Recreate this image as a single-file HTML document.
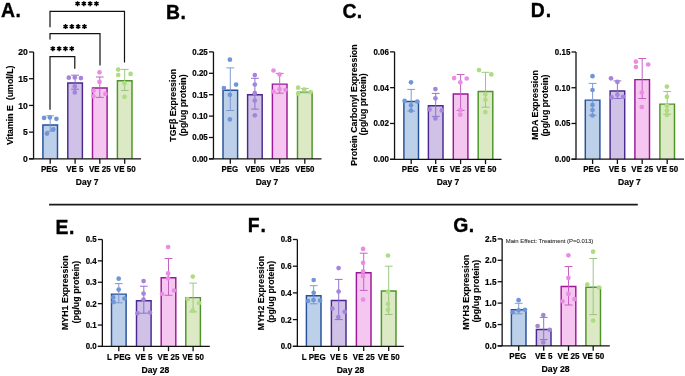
<!DOCTYPE html>
<html><head><meta charset="utf-8"><style>
html,body{margin:0;padding:0;background:#fff;}
svg{display:block;font-family:"Liberation Sans", sans-serif;will-change:transform;}
</style></head><body>
<svg width="685" height="376" viewBox="0 0 685 376">
<rect width="685" height="376" fill="#fff"/>
<rect x="42.9" y="125.0" width="14.6" height="33.85" fill="#bdd0ea"/>
<path d="M42.900000000000006,158.85V125.0H57.5V158.85" fill="none" stroke="#25509a" stroke-width="1.45"/>
<path d="M50.2,115.8V131.3M46.300000000000004,115.8H54.1M46.300000000000004,131.3H54.1" stroke="#7896cc" stroke-width="0.95" fill="none"/>
<circle cx="44.1" cy="117.9" r="2.35" fill="#6f96d8"/>
<circle cx="49.9" cy="117.5" r="2.35" fill="#6f96d8"/>
<circle cx="56.4" cy="118.8" r="2.35" fill="#6f96d8"/>
<circle cx="53.3" cy="129.4" r="2.35" fill="#6f96d8"/>
<circle cx="47.0" cy="133.6" r="2.35" fill="#6f96d8"/>
<rect x="67.8" y="83.0" width="14.6" height="75.85" fill="#d0c2e7"/>
<path d="M67.8,158.85V83.0H82.39999999999999V158.85" fill="none" stroke="#4a2890" stroke-width="1.45"/>
<path d="M75.1,75.2V89.2M71.19999999999999,75.2H79.0M71.19999999999999,89.2H79.0" stroke="#8b6acb" stroke-width="0.95" fill="none"/>
<circle cx="68.8" cy="77.7" r="2.35" fill="#a585da"/>
<circle cx="74.8" cy="77.4" r="2.35" fill="#a585da"/>
<circle cx="80.9" cy="78.1" r="2.35" fill="#a585da"/>
<circle cx="74.8" cy="86.3" r="2.35" fill="#a585da"/>
<circle cx="74.8" cy="92.4" r="2.35" fill="#a585da"/>
<rect x="92.5" y="87.9" width="14.6" height="70.95" fill="#f4c6f0"/>
<path d="M92.5,158.85V87.9H107.1V158.85" fill="none" stroke="#9c1896" stroke-width="1.45"/>
<path d="M99.8,77.0V97.4M95.89999999999999,77.0H103.7M95.89999999999999,97.4H103.7" stroke="#c45ac2" stroke-width="0.95" fill="none"/>
<circle cx="99.5" cy="72.3" r="2.35" fill="#e98de4"/>
<circle cx="99.5" cy="81.9" r="2.35" fill="#e98de4"/>
<circle cx="93.4" cy="90.7" r="2.35" fill="#e98de4"/>
<circle cx="105.4" cy="93.9" r="2.35" fill="#e98de4"/>
<circle cx="93.4" cy="96.3" r="2.35" fill="#e98de4"/>
<rect x="117.4" y="80.8" width="14.6" height="78.05" fill="#dbeac4"/>
<path d="M117.4,158.85V80.8H132.0V158.85" fill="none" stroke="#4e9426" stroke-width="1.45"/>
<path d="M124.7,69.4V90.5M120.8,69.4H128.6M120.8,90.5H128.6" stroke="#97c47c" stroke-width="0.95" fill="none"/>
<circle cx="118.2" cy="69.6" r="2.35" fill="#afdc82"/>
<circle cx="118.2" cy="75.0" r="2.35" fill="#afdc82"/>
<circle cx="130.6" cy="73.9" r="2.35" fill="#afdc82"/>
<circle cx="124.5" cy="83.2" r="2.35" fill="#afdc82"/>
<circle cx="124.5" cy="96.8" r="2.35" fill="#afdc82"/>
<line x1="33.56" y1="52.0" x2="33.56" y2="158.85" stroke="#111" stroke-width="1.3"/>
<line x1="29.06" y1="52.0" x2="33.56" y2="52.0" stroke="#111" stroke-width="1.3"/>
<text transform="translate(27.86,55.17) scale(1,1.07)" font-size="8.6" text-anchor="end" font-weight="bold" fill="#000" stroke="#000" stroke-width="0.18" >20</text>
<line x1="29.06" y1="78.71" x2="33.56" y2="78.71" stroke="#111" stroke-width="1.3"/>
<text transform="translate(27.86,81.88) scale(1,1.07)" font-size="8.6" text-anchor="end" font-weight="bold" fill="#000" stroke="#000" stroke-width="0.18" >15</text>
<line x1="29.06" y1="105.43" x2="33.56" y2="105.43" stroke="#111" stroke-width="1.3"/>
<text transform="translate(27.86,108.6) scale(1,1.07)" font-size="8.6" text-anchor="end" font-weight="bold" fill="#000" stroke="#000" stroke-width="0.18" >10</text>
<line x1="29.06" y1="132.14" x2="33.56" y2="132.14" stroke="#111" stroke-width="1.3"/>
<text transform="translate(27.86,135.31) scale(1,1.07)" font-size="8.6" text-anchor="end" font-weight="bold" fill="#000" stroke="#000" stroke-width="0.18" >5</text>
<line x1="29.06" y1="158.85" x2="33.56" y2="158.85" stroke="#111" stroke-width="1.3"/>
<text transform="translate(27.86,162.02) scale(1,1.07)" font-size="8.6" text-anchor="end" font-weight="bold" fill="#000" stroke="#000" stroke-width="0.18" >0</text>
<line x1="29.06" y1="158.85" x2="141" y2="158.85" stroke="#111" stroke-width="1.3"/>
<line x1="50.2" y1="158.85" x2="50.2" y2="163.65" stroke="#111" stroke-width="1.3"/>
<text transform="translate(49.4,172.0) scale(1,1.07)" font-size="8.0" text-anchor="middle" font-weight="bold" fill="#000" stroke="#000" stroke-width="0.18" >PEG</text>
<line x1="75.1" y1="158.85" x2="75.1" y2="163.65" stroke="#111" stroke-width="1.3"/>
<text transform="translate(74.9,172.0) scale(1,1.07)" font-size="8.0" text-anchor="middle" font-weight="bold" fill="#000" stroke="#000" stroke-width="0.18" >VE 5</text>
<line x1="99.8" y1="158.85" x2="99.8" y2="163.65" stroke="#111" stroke-width="1.3"/>
<text transform="translate(99.8,172.0) scale(1,1.07)" font-size="8.0" text-anchor="middle" font-weight="bold" fill="#000" stroke="#000" stroke-width="0.18" >VE 25</text>
<line x1="124.7" y1="158.85" x2="124.7" y2="163.65" stroke="#111" stroke-width="1.3"/>
<text transform="translate(124.7,172.0) scale(1,1.07)" font-size="8.0" text-anchor="middle" font-weight="bold" fill="#000" stroke="#000" stroke-width="0.18" >VE 50</text>
<text transform="translate(87.2,184.7) scale(1,1.07)" font-size="8.5" text-anchor="middle" font-weight="bold" fill="#000" stroke="#000" stroke-width="0.18" >Day 7</text>
<text transform="translate(1.0,16.8) scale(1,1.04)" font-size="19.4" font-weight="bold" fill="#000" stroke="#000" stroke-width="0.35">A</text>
<text transform="translate(15.55,16.8) scale(1,1.04)" font-size="19.4" font-weight="bold" fill="#000" stroke="#000" stroke-width="0.35">.</text>
<text transform="translate(13.2,105.25) rotate(-90) scale(1,1.07)" font-size="8.8" text-anchor="middle" font-weight="bold" fill="#000" stroke="#000" stroke-width="0.12">Vitamin E&#160;&#160;(umol/L)</text>
<rect x="223.0" y="90.2" width="14.6" height="68.7" fill="#bdd0ea"/>
<path d="M223.0,158.9V90.2H237.60000000000002V158.9" fill="none" stroke="#25509a" stroke-width="1.45"/>
<path d="M230.3,67.9V110.5M226.4,67.9H234.20000000000002M226.4,110.5H234.20000000000002" stroke="#7896cc" stroke-width="0.95" fill="none"/>
<circle cx="229.9" cy="59.7" r="2.35" fill="#6f96d8"/>
<circle cx="223.9" cy="88.1" r="2.35" fill="#6f96d8"/>
<circle cx="236.1" cy="84.6" r="2.35" fill="#6f96d8"/>
<circle cx="229.9" cy="94.8" r="2.35" fill="#6f96d8"/>
<circle cx="229.9" cy="119.4" r="2.35" fill="#6f96d8"/>
<rect x="247.6" y="94.8" width="14.6" height="64.1" fill="#d0c2e7"/>
<path d="M247.6,158.9V94.8H262.2V158.9" fill="none" stroke="#4a2890" stroke-width="1.45"/>
<path d="M254.9,78.3V109.1M251.0,78.3H258.8M251.0,109.1H258.8" stroke="#8b6acb" stroke-width="0.95" fill="none"/>
<circle cx="254.8" cy="75.1" r="2.35" fill="#a585da"/>
<circle cx="254.8" cy="84.5" r="2.35" fill="#a585da"/>
<circle cx="254.8" cy="93.2" r="2.35" fill="#a585da"/>
<circle cx="254.8" cy="100.6" r="2.35" fill="#a585da"/>
<circle cx="254.8" cy="115.3" r="2.35" fill="#a585da"/>
<rect x="272.4" y="84.1" width="14.6" height="74.8" fill="#f4c6f0"/>
<path d="M272.4,158.9V84.1H287.0V158.9" fill="none" stroke="#9c1896" stroke-width="1.45"/>
<path d="M279.7,73.4V93.2M275.8,73.4H283.59999999999997M275.8,93.2H283.59999999999997" stroke="#c45ac2" stroke-width="0.95" fill="none"/>
<circle cx="273.5" cy="70.5" r="2.35" fill="#e98de4"/>
<circle cx="279.6" cy="74.5" r="2.35" fill="#e98de4"/>
<circle cx="273.5" cy="91.7" r="2.35" fill="#e98de4"/>
<circle cx="279.6" cy="89.3" r="2.35" fill="#e98de4"/>
<circle cx="285.6" cy="89.8" r="2.35" fill="#e98de4"/>
<rect x="297.5" y="92.1" width="14.6" height="66.8" fill="#dbeac4"/>
<path d="M297.5,158.9V92.1H312.1V158.9" fill="none" stroke="#4e9426" stroke-width="1.45"/>
<path d="M304.8,88.4V92.8M300.90000000000003,88.4H308.7M300.90000000000003,92.8H308.7" stroke="#97c47c" stroke-width="0.95" fill="none"/>
<circle cx="298.1" cy="87.7" r="2.35" fill="#afdc82"/>
<circle cx="304.2" cy="89.6" r="2.35" fill="#afdc82"/>
<circle cx="310.6" cy="92.0" r="2.35" fill="#afdc82"/>
<circle cx="298.1" cy="93.6" r="2.35" fill="#afdc82"/>
<line x1="213.46" y1="51.9" x2="213.46" y2="158.9" stroke="#111" stroke-width="1.3"/>
<line x1="208.96" y1="51.9" x2="213.46" y2="51.9" stroke="#111" stroke-width="1.3"/>
<text transform="translate(207.76,54.83) scale(1,1.07)" font-size="7.95" text-anchor="end" font-weight="bold" fill="#000" stroke="#000" stroke-width="0.18" >0.25</text>
<line x1="208.96" y1="73.3" x2="213.46" y2="73.3" stroke="#111" stroke-width="1.3"/>
<text transform="translate(207.76,76.23) scale(1,1.07)" font-size="7.95" text-anchor="end" font-weight="bold" fill="#000" stroke="#000" stroke-width="0.18" >0.20</text>
<line x1="208.96" y1="94.7" x2="213.46" y2="94.7" stroke="#111" stroke-width="1.3"/>
<text transform="translate(207.76,97.63) scale(1,1.07)" font-size="7.95" text-anchor="end" font-weight="bold" fill="#000" stroke="#000" stroke-width="0.18" >0.15</text>
<line x1="208.96" y1="116.1" x2="213.46" y2="116.1" stroke="#111" stroke-width="1.3"/>
<text transform="translate(207.76,119.03) scale(1,1.07)" font-size="7.95" text-anchor="end" font-weight="bold" fill="#000" stroke="#000" stroke-width="0.18" >0.10</text>
<line x1="208.96" y1="137.5" x2="213.46" y2="137.5" stroke="#111" stroke-width="1.3"/>
<text transform="translate(207.76,140.43) scale(1,1.07)" font-size="7.95" text-anchor="end" font-weight="bold" fill="#000" stroke="#000" stroke-width="0.18" >0.05</text>
<line x1="208.96" y1="158.9" x2="213.46" y2="158.9" stroke="#111" stroke-width="1.3"/>
<text transform="translate(207.76,161.83) scale(1,1.07)" font-size="7.95" text-anchor="end" font-weight="bold" fill="#000" stroke="#000" stroke-width="0.18" >0.00</text>
<line x1="208.96" y1="158.9" x2="321.5" y2="158.9" stroke="#111" stroke-width="1.3"/>
<line x1="230.3" y1="158.9" x2="230.3" y2="163.7" stroke="#111" stroke-width="1.3"/>
<text transform="translate(229.9,172.0) scale(1,1.07)" font-size="7.9" text-anchor="middle" font-weight="bold" fill="#000" stroke="#000" stroke-width="0.18" >PEG</text>
<line x1="254.9" y1="158.9" x2="254.9" y2="163.7" stroke="#111" stroke-width="1.3"/>
<text transform="translate(254.9,172.0) scale(1,1.07)" font-size="7.9" text-anchor="middle" font-weight="bold" fill="#000" stroke="#000" stroke-width="0.18" >VE05</text>
<line x1="279.7" y1="158.9" x2="279.7" y2="163.7" stroke="#111" stroke-width="1.3"/>
<text transform="translate(279.7,172.0) scale(1,1.07)" font-size="7.9" text-anchor="middle" font-weight="bold" fill="#000" stroke="#000" stroke-width="0.18" >VE25</text>
<line x1="304.8" y1="158.9" x2="304.8" y2="163.7" stroke="#111" stroke-width="1.3"/>
<text transform="translate(304.8,172.0) scale(1,1.07)" font-size="7.9" text-anchor="middle" font-weight="bold" fill="#000" stroke="#000" stroke-width="0.18" >VE50</text>
<text transform="translate(267.0,184.8) scale(1,1.07)" font-size="8.5" text-anchor="middle" font-weight="bold" fill="#000" stroke="#000" stroke-width="0.18" >Day 7</text>
<text transform="translate(165.95,19.2) scale(1,1.04)" font-size="19.4" font-weight="bold" fill="#000" stroke="#000" stroke-width="0.35">B</text>
<text transform="translate(180.45,19.2) scale(1,1.04)" font-size="19.4" font-weight="bold" fill="#000" stroke="#000" stroke-width="0.35">.</text>
<text transform="translate(175.7,105.25) rotate(-90) scale(1,1.07)" font-size="8.8" text-anchor="middle" font-weight="bold" fill="#000" stroke="#000" stroke-width="0.12">TGF&#946; Expression</text>
<text transform="translate(185.8,105.35) rotate(-90) scale(1,1.07)" font-size="8.8" text-anchor="middle" font-weight="bold" fill="#000" stroke="#000" stroke-width="0.12">(pg/ug protein)</text>
<rect x="403.9" y="101.5" width="14.6" height="57.79" fill="#bdd0ea"/>
<path d="M403.9,159.29V101.5H418.5V159.29" fill="none" stroke="#25509a" stroke-width="1.45"/>
<path d="M411.2,89.4V111.1M407.3,89.4H415.09999999999997M407.3,111.1H415.09999999999997" stroke="#7896cc" stroke-width="0.95" fill="none"/>
<circle cx="411" cy="82.3" r="2.35" fill="#6f96d8"/>
<circle cx="404.6" cy="100.9" r="2.35" fill="#6f96d8"/>
<circle cx="417.3" cy="101.5" r="2.35" fill="#6f96d8"/>
<circle cx="411" cy="105.3" r="2.35" fill="#6f96d8"/>
<circle cx="411" cy="110.6" r="2.35" fill="#6f96d8"/>
<rect x="428.4" y="105.8" width="14.6" height="53.49" fill="#d0c2e7"/>
<path d="M428.4,159.29V105.8H443.0V159.29" fill="none" stroke="#4a2890" stroke-width="1.45"/>
<path d="M435.7,93.4V116.4M431.8,93.4H439.59999999999997M431.8,116.4H439.59999999999997" stroke="#8b6acb" stroke-width="0.95" fill="none"/>
<circle cx="435.4" cy="89.1" r="2.35" fill="#a585da"/>
<circle cx="435.4" cy="98.3" r="2.35" fill="#a585da"/>
<circle cx="429.5" cy="109.4" r="2.35" fill="#a585da"/>
<circle cx="441.8" cy="110.4" r="2.35" fill="#a585da"/>
<circle cx="435.4" cy="118.5" r="2.35" fill="#a585da"/>
<rect x="453.3" y="93.9" width="14.6" height="65.39" fill="#f4c6f0"/>
<path d="M453.3,159.29V93.9H467.90000000000003V159.29" fill="none" stroke="#9c1896" stroke-width="1.45"/>
<path d="M460.6,74.5V110.4M456.70000000000005,74.5H464.5M456.70000000000005,110.4H464.5" stroke="#c45ac2" stroke-width="0.95" fill="none"/>
<circle cx="454.1" cy="78.1" r="2.35" fill="#e98de4"/>
<circle cx="460.3" cy="82.3" r="2.35" fill="#e98de4"/>
<circle cx="466.7" cy="78.5" r="2.35" fill="#e98de4"/>
<circle cx="460.3" cy="110.0" r="2.35" fill="#e98de4"/>
<circle cx="460.3" cy="114.7" r="2.35" fill="#e98de4"/>
<rect x="478.2" y="91.4" width="14.6" height="67.89" fill="#dbeac4"/>
<path d="M478.2,159.29V91.4H492.8V159.29" fill="none" stroke="#4e9426" stroke-width="1.45"/>
<path d="M485.5,72.3V107.2M481.6,72.3H489.4M481.6,107.2H489.4" stroke="#97c47c" stroke-width="0.95" fill="none"/>
<circle cx="479.0" cy="70.1" r="2.35" fill="#afdc82"/>
<circle cx="491.3" cy="74.4" r="2.35" fill="#afdc82"/>
<circle cx="485.4" cy="94.5" r="2.35" fill="#afdc82"/>
<circle cx="485.4" cy="99.8" r="2.35" fill="#afdc82"/>
<circle cx="485.4" cy="112.1" r="2.35" fill="#afdc82"/>
<line x1="394.55" y1="51.86" x2="394.55" y2="159.29" stroke="#111" stroke-width="1.3"/>
<line x1="390.05" y1="51.86" x2="394.55" y2="51.86" stroke="#111" stroke-width="1.3"/>
<text transform="translate(388.85,54.79) scale(1,1.07)" font-size="7.95" text-anchor="end" font-weight="bold" fill="#000" stroke="#000" stroke-width="0.18" >0.06</text>
<line x1="390.05" y1="87.67" x2="394.55" y2="87.67" stroke="#111" stroke-width="1.3"/>
<text transform="translate(388.85,90.6) scale(1,1.07)" font-size="7.95" text-anchor="end" font-weight="bold" fill="#000" stroke="#000" stroke-width="0.18" >0.04</text>
<line x1="390.05" y1="123.48" x2="394.55" y2="123.48" stroke="#111" stroke-width="1.3"/>
<text transform="translate(388.85,126.41) scale(1,1.07)" font-size="7.95" text-anchor="end" font-weight="bold" fill="#000" stroke="#000" stroke-width="0.18" >0.02</text>
<line x1="390.05" y1="159.29" x2="394.55" y2="159.29" stroke="#111" stroke-width="1.3"/>
<text transform="translate(388.85,162.22) scale(1,1.07)" font-size="7.95" text-anchor="end" font-weight="bold" fill="#000" stroke="#000" stroke-width="0.18" >0.00</text>
<line x1="390.05" y1="159.29" x2="501.5" y2="159.29" stroke="#111" stroke-width="1.3"/>
<line x1="411.2" y1="159.29" x2="411.2" y2="164.09" stroke="#111" stroke-width="1.3"/>
<text transform="translate(410.3,172.2) scale(1,1.07)" font-size="8.0" text-anchor="middle" font-weight="bold" fill="#000" stroke="#000" stroke-width="0.18" >PEG</text>
<line x1="435.7" y1="159.29" x2="435.7" y2="164.09" stroke="#111" stroke-width="1.3"/>
<text transform="translate(435.7,172.2) scale(1,1.07)" font-size="8.0" text-anchor="middle" font-weight="bold" fill="#000" stroke="#000" stroke-width="0.18" >VE 5</text>
<line x1="460.6" y1="159.29" x2="460.6" y2="164.09" stroke="#111" stroke-width="1.3"/>
<text transform="translate(460.6,172.2) scale(1,1.07)" font-size="8.0" text-anchor="middle" font-weight="bold" fill="#000" stroke="#000" stroke-width="0.18" >VE 25</text>
<line x1="485.5" y1="159.29" x2="485.5" y2="164.09" stroke="#111" stroke-width="1.3"/>
<text transform="translate(485.5,172.2) scale(1,1.07)" font-size="8.0" text-anchor="middle" font-weight="bold" fill="#000" stroke="#000" stroke-width="0.18" >VE 50</text>
<text transform="translate(448.0,184.8) scale(1,1.07)" font-size="8.5" text-anchor="middle" font-weight="bold" fill="#000" stroke="#000" stroke-width="0.18" >Day 7</text>
<text transform="translate(342.45,18.2) scale(1,1.04)" font-size="19.4" font-weight="bold" fill="#000" stroke="#000" stroke-width="0.35">C</text>
<text transform="translate(356.75,18.2) scale(1,1.04)" font-size="19.4" font-weight="bold" fill="#000" stroke="#000" stroke-width="0.35">.</text>
<text transform="translate(356.9,105.0) rotate(-90) scale(1,1.07)" font-size="8.85" text-anchor="middle" font-weight="bold" fill="#000" stroke="#000" stroke-width="0.12">Protein Carbonyl Expression</text>
<text transform="translate(366.4,104.4) rotate(-90) scale(1,1.07)" font-size="8.8" text-anchor="middle" font-weight="bold" fill="#000" stroke="#000" stroke-width="0.12">(pg/ug protein)</text>
<rect x="585.3" y="100.1" width="14.6" height="59.12" fill="#bdd0ea"/>
<path d="M585.3000000000001,159.22V100.1H599.9V159.22" fill="none" stroke="#25509a" stroke-width="1.45"/>
<path d="M592.6,83.4V115.3M588.7,83.4H596.5M588.7,115.3H596.5" stroke="#7896cc" stroke-width="0.95" fill="none"/>
<circle cx="592.5" cy="76.2" r="2.35" fill="#6f96d8"/>
<circle cx="592.5" cy="90.0" r="2.35" fill="#6f96d8"/>
<circle cx="592.5" cy="104.9" r="2.35" fill="#6f96d8"/>
<circle cx="592.5" cy="110.0" r="2.35" fill="#6f96d8"/>
<circle cx="592.5" cy="115.5" r="2.35" fill="#6f96d8"/>
<rect x="610.1" y="90.9" width="14.6" height="68.32" fill="#d0c2e7"/>
<path d="M610.1,159.22V90.9H624.6999999999999V159.22" fill="none" stroke="#4a2890" stroke-width="1.45"/>
<path d="M617.4,80.9V98.5M613.5,80.9H621.3M613.5,98.5H621.3" stroke="#8b6acb" stroke-width="0.95" fill="none"/>
<circle cx="611.0" cy="78.3" r="2.35" fill="#a585da"/>
<circle cx="617.4" cy="81.9" r="2.35" fill="#a585da"/>
<circle cx="611.6" cy="97.4" r="2.35" fill="#a585da"/>
<circle cx="617.4" cy="94.7" r="2.35" fill="#a585da"/>
<circle cx="623.1" cy="96.8" r="2.35" fill="#a585da"/>
<rect x="634.9" y="79.6" width="14.6" height="79.62" fill="#f4c6f0"/>
<path d="M634.9000000000001,159.22V79.6H649.5V159.22" fill="none" stroke="#9c1896" stroke-width="1.45"/>
<path d="M642.2,58.5V98.5M638.3000000000001,58.5H646.1M638.3000000000001,98.5H646.1" stroke="#c45ac2" stroke-width="0.95" fill="none"/>
<circle cx="635.9" cy="61.7" r="2.35" fill="#e98de4"/>
<circle cx="635.9" cy="67.0" r="2.35" fill="#e98de4"/>
<circle cx="648.2" cy="64.5" r="2.35" fill="#e98de4"/>
<circle cx="641.8" cy="92.6" r="2.35" fill="#e98de4"/>
<circle cx="641.8" cy="107.0" r="2.35" fill="#e98de4"/>
<rect x="659.9" y="104.1" width="14.6" height="55.12" fill="#dbeac4"/>
<path d="M659.9000000000001,159.22V104.1H674.5V159.22" fill="none" stroke="#4e9426" stroke-width="1.45"/>
<path d="M667.2,91.5V114.3M663.3000000000001,91.5H671.1M663.3000000000001,114.3H671.1" stroke="#97c47c" stroke-width="0.95" fill="none"/>
<circle cx="666.9" cy="86.6" r="2.35" fill="#afdc82"/>
<circle cx="666.9" cy="96.8" r="2.35" fill="#afdc82"/>
<circle cx="666.9" cy="105.7" r="2.35" fill="#afdc82"/>
<circle cx="666.9" cy="110.6" r="2.35" fill="#afdc82"/>
<circle cx="666.9" cy="114.9" r="2.35" fill="#afdc82"/>
<line x1="576.0" y1="52.0" x2="576.0" y2="159.22" stroke="#111" stroke-width="1.3"/>
<line x1="571.5" y1="52.0" x2="576.0" y2="52.0" stroke="#111" stroke-width="1.3"/>
<text transform="translate(570.3,54.93) scale(1,1.07)" font-size="7.95" text-anchor="end" font-weight="bold" fill="#000" stroke="#000" stroke-width="0.18" >0.15</text>
<line x1="571.5" y1="87.74" x2="576.0" y2="87.74" stroke="#111" stroke-width="1.3"/>
<text transform="translate(570.3,90.67) scale(1,1.07)" font-size="7.95" text-anchor="end" font-weight="bold" fill="#000" stroke="#000" stroke-width="0.18" >0.10</text>
<line x1="571.5" y1="123.48" x2="576.0" y2="123.48" stroke="#111" stroke-width="1.3"/>
<text transform="translate(570.3,126.41) scale(1,1.07)" font-size="7.95" text-anchor="end" font-weight="bold" fill="#000" stroke="#000" stroke-width="0.18" >0.05</text>
<line x1="571.5" y1="159.22" x2="576.0" y2="159.22" stroke="#111" stroke-width="1.3"/>
<text transform="translate(570.3,162.15) scale(1,1.07)" font-size="7.95" text-anchor="end" font-weight="bold" fill="#000" stroke="#000" stroke-width="0.18" >0.00</text>
<line x1="571.5" y1="159.22" x2="684" y2="159.22" stroke="#111" stroke-width="1.3"/>
<line x1="592.6" y1="159.22" x2="592.6" y2="164.02" stroke="#111" stroke-width="1.3"/>
<text transform="translate(591.7,172.2) scale(1,1.07)" font-size="8.0" text-anchor="middle" font-weight="bold" fill="#000" stroke="#000" stroke-width="0.18" >PEG</text>
<line x1="617.4" y1="159.22" x2="617.4" y2="164.02" stroke="#111" stroke-width="1.3"/>
<text transform="translate(617.4,172.2) scale(1,1.07)" font-size="8.0" text-anchor="middle" font-weight="bold" fill="#000" stroke="#000" stroke-width="0.18" >VE 5</text>
<line x1="642.2" y1="159.22" x2="642.2" y2="164.02" stroke="#111" stroke-width="1.3"/>
<text transform="translate(642.2,172.2) scale(1,1.07)" font-size="8.0" text-anchor="middle" font-weight="bold" fill="#000" stroke="#000" stroke-width="0.18" >VE 25</text>
<line x1="667.2" y1="159.22" x2="667.2" y2="164.02" stroke="#111" stroke-width="1.3"/>
<text transform="translate(667.2,172.2) scale(1,1.07)" font-size="8.0" text-anchor="middle" font-weight="bold" fill="#000" stroke="#000" stroke-width="0.18" >VE 50</text>
<text transform="translate(629.4,185.0) scale(1,1.07)" font-size="8.55" text-anchor="middle" font-weight="bold" fill="#000" stroke="#000" stroke-width="0.18" >Day 7</text>
<text transform="translate(530.85,16.7) scale(1,1.04)" font-size="19.4" font-weight="bold" fill="#000" stroke="#000" stroke-width="0.35">D</text>
<text transform="translate(545.8,16.7) scale(1,1.04)" font-size="19.4" font-weight="bold" fill="#000" stroke="#000" stroke-width="0.35">.</text>
<text transform="translate(538.3,104.85) rotate(-90) scale(1,1.07)" font-size="8.83" text-anchor="middle" font-weight="bold" fill="#000" stroke="#000" stroke-width="0.12">MDA Expression</text>
<text transform="translate(548.3,105.55) rotate(-90) scale(1,1.07)" font-size="8.8" text-anchor="middle" font-weight="bold" fill="#000" stroke="#000" stroke-width="0.12">(pg/ug protein)</text>
<rect x="111.5" y="294.1" width="14.6" height="52.3" fill="#bdd0ea"/>
<path d="M111.5,346.4V294.1H126.1V346.4" fill="none" stroke="#25509a" stroke-width="1.45"/>
<path d="M118.8,283.6V302.8M114.89999999999999,283.6H122.7M114.89999999999999,302.8H122.7" stroke="#7896cc" stroke-width="0.95" fill="none"/>
<circle cx="118.7" cy="278.7" r="2.35" fill="#6f96d8"/>
<circle cx="118.7" cy="289.6" r="2.35" fill="#6f96d8"/>
<circle cx="113.2" cy="297.4" r="2.35" fill="#6f96d8"/>
<circle cx="124.5" cy="298.5" r="2.35" fill="#6f96d8"/>
<circle cx="113.5" cy="302.1" r="2.35" fill="#6f96d8"/>
<rect x="136.5" y="300.8" width="14.6" height="45.6" fill="#d0c2e7"/>
<path d="M136.5,346.4V300.8H151.10000000000002V346.4" fill="none" stroke="#4a2890" stroke-width="1.45"/>
<path d="M143.8,286.2V313.2M139.9,286.2H147.70000000000002M139.9,313.2H147.70000000000002" stroke="#8b6acb" stroke-width="0.95" fill="none"/>
<circle cx="143.6" cy="281.1" r="2.35" fill="#a585da"/>
<circle cx="143.6" cy="293.6" r="2.35" fill="#a585da"/>
<circle cx="137.5" cy="313.3" r="2.35" fill="#a585da"/>
<circle cx="150.0" cy="312.6" r="2.35" fill="#a585da"/>
<circle cx="143.5" cy="299.5" r="2.35" fill="#a585da"/>
<rect x="161.2" y="277.8" width="14.6" height="68.6" fill="#f4c6f0"/>
<path d="M161.2,346.4V277.8H175.8V346.4" fill="none" stroke="#9c1896" stroke-width="1.45"/>
<path d="M168.5,258.5V295.3M164.6,258.5H172.4M164.6,295.3H172.4" stroke="#c45ac2" stroke-width="0.95" fill="none"/>
<circle cx="168.1" cy="247.0" r="2.35" fill="#e98de4"/>
<circle cx="168.1" cy="273.4" r="2.35" fill="#e98de4"/>
<circle cx="162.0" cy="294.0" r="2.35" fill="#e98de4"/>
<circle cx="174.0" cy="290.5" r="2.35" fill="#e98de4"/>
<circle cx="168.1" cy="278.3" r="2.35" fill="#e98de4"/>
<rect x="185.8" y="297.6" width="14.6" height="48.8" fill="#dbeac4"/>
<path d="M185.79999999999998,346.4V297.6H200.4V346.4" fill="none" stroke="#4e9426" stroke-width="1.45"/>
<path d="M193.1,283.1V311.9M189.2,283.1H197.0M189.2,311.9H197.0" stroke="#97c47c" stroke-width="0.95" fill="none"/>
<circle cx="192.8" cy="276.6" r="2.35" fill="#afdc82"/>
<circle cx="187.6" cy="299.1" r="2.35" fill="#afdc82"/>
<circle cx="199.0" cy="303.0" r="2.35" fill="#afdc82"/>
<circle cx="192.8" cy="310.6" r="2.35" fill="#afdc82"/>
<line x1="102.36" y1="239.5" x2="102.36" y2="346.4" stroke="#111" stroke-width="1.3"/>
<line x1="97.86" y1="239.5" x2="102.36" y2="239.5" stroke="#111" stroke-width="1.3"/>
<text transform="translate(96.66,242.41) scale(1,1.07)" font-size="7.9" text-anchor="end" font-weight="bold" fill="#000" stroke="#000" stroke-width="0.18" >0.5</text>
<line x1="97.86" y1="260.88" x2="102.36" y2="260.88" stroke="#111" stroke-width="1.3"/>
<text transform="translate(96.66,263.79) scale(1,1.07)" font-size="7.9" text-anchor="end" font-weight="bold" fill="#000" stroke="#000" stroke-width="0.18" >0.4</text>
<line x1="97.86" y1="282.26" x2="102.36" y2="282.26" stroke="#111" stroke-width="1.3"/>
<text transform="translate(96.66,285.17) scale(1,1.07)" font-size="7.9" text-anchor="end" font-weight="bold" fill="#000" stroke="#000" stroke-width="0.18" >0.3</text>
<line x1="97.86" y1="303.64" x2="102.36" y2="303.64" stroke="#111" stroke-width="1.3"/>
<text transform="translate(96.66,306.55) scale(1,1.07)" font-size="7.9" text-anchor="end" font-weight="bold" fill="#000" stroke="#000" stroke-width="0.18" >0.2</text>
<line x1="97.86" y1="325.02" x2="102.36" y2="325.02" stroke="#111" stroke-width="1.3"/>
<text transform="translate(96.66,327.93) scale(1,1.07)" font-size="7.9" text-anchor="end" font-weight="bold" fill="#000" stroke="#000" stroke-width="0.18" >0.1</text>
<line x1="97.86" y1="346.4" x2="102.36" y2="346.4" stroke="#111" stroke-width="1.3"/>
<text transform="translate(96.66,349.31) scale(1,1.07)" font-size="7.9" text-anchor="end" font-weight="bold" fill="#000" stroke="#000" stroke-width="0.18" >0.0</text>
<line x1="97.86" y1="346.4" x2="209.8" y2="346.4" stroke="#111" stroke-width="1.3"/>
<line x1="118.8" y1="346.4" x2="118.8" y2="351.2" stroke="#111" stroke-width="1.3"/>
<text transform="translate(118.8,359.6) scale(1,1.07)" font-size="8.0" text-anchor="middle" font-weight="bold" fill="#000" stroke="#000" stroke-width="0.18" >L PEG</text>
<line x1="143.8" y1="346.4" x2="143.8" y2="351.2" stroke="#111" stroke-width="1.3"/>
<text transform="translate(143.8,359.6) scale(1,1.07)" font-size="8.0" text-anchor="middle" font-weight="bold" fill="#000" stroke="#000" stroke-width="0.18" >VE 5</text>
<line x1="168.5" y1="346.4" x2="168.5" y2="351.2" stroke="#111" stroke-width="1.3"/>
<text transform="translate(168.5,359.6) scale(1,1.07)" font-size="8.0" text-anchor="middle" font-weight="bold" fill="#000" stroke="#000" stroke-width="0.18" >VE 25</text>
<line x1="193.1" y1="346.4" x2="193.1" y2="351.2" stroke="#111" stroke-width="1.3"/>
<text transform="translate(193.1,359.6) scale(1,1.07)" font-size="8.0" text-anchor="middle" font-weight="bold" fill="#000" stroke="#000" stroke-width="0.18" >VE 50</text>
<text transform="translate(155.4,372.6) scale(1,1.07)" font-size="8.6" text-anchor="middle" font-weight="bold" fill="#000" stroke="#000" stroke-width="0.18" >Day 28</text>
<text transform="translate(55.45,233.7) scale(1,1.04)" font-size="19.4" font-weight="bold" fill="#000" stroke="#000" stroke-width="0.35">E</text>
<text transform="translate(69.0,233.7) scale(1,1.04)" font-size="19.4" font-weight="bold" fill="#000" stroke="#000" stroke-width="0.35">.</text>
<text transform="translate(68.4,292.7) rotate(-90) scale(1,1.07)" font-size="8.85" text-anchor="middle" font-weight="bold" fill="#000" stroke="#000" stroke-width="0.12">MYH1 Expression</text>
<text transform="translate(78.6,292.1) rotate(-90) scale(1,1.07)" font-size="8.9" text-anchor="middle" font-weight="bold" fill="#000" stroke="#000" stroke-width="0.12">(pg/ug protein)</text>
<rect x="306.4" y="295.8" width="14.6" height="50.5" fill="#bdd0ea"/>
<path d="M306.4,346.3V295.8H321.0V346.3" fill="none" stroke="#25509a" stroke-width="1.45"/>
<path d="M313.7,285.7V303.8M309.8,285.7H317.59999999999997M309.8,303.8H317.59999999999997" stroke="#7896cc" stroke-width="0.95" fill="none"/>
<circle cx="313.7" cy="280.0" r="2.35" fill="#6f96d8"/>
<circle cx="313.7" cy="292.8" r="2.35" fill="#6f96d8"/>
<circle cx="308.0" cy="301.0" r="2.35" fill="#6f96d8"/>
<circle cx="313.5" cy="300.0" r="2.35" fill="#6f96d8"/>
<circle cx="320.1" cy="300.5" r="2.35" fill="#6f96d8"/>
<rect x="331.4" y="300.5" width="14.6" height="45.8" fill="#d0c2e7"/>
<path d="M331.4,346.3V300.5H346.0V346.3" fill="none" stroke="#4a2890" stroke-width="1.45"/>
<path d="M338.7,279.4V319.6M334.8,279.4H342.59999999999997M334.8,319.6H342.59999999999997" stroke="#8b6acb" stroke-width="0.95" fill="none"/>
<circle cx="338.6" cy="268.1" r="2.35" fill="#a585da"/>
<circle cx="338.6" cy="291.6" r="2.35" fill="#a585da"/>
<circle cx="332.4" cy="308.6" r="2.35" fill="#a585da"/>
<circle cx="344.7" cy="311.8" r="2.35" fill="#a585da"/>
<circle cx="338.3" cy="317.0" r="2.35" fill="#a585da"/>
<rect x="356.4" y="272.8" width="14.6" height="73.5" fill="#f4c6f0"/>
<path d="M356.4,346.3V272.8H371.0V346.3" fill="none" stroke="#9c1896" stroke-width="1.45"/>
<path d="M363.7,253.2V290.4M359.8,253.2H367.59999999999997M359.8,290.4H367.59999999999997" stroke="#c45ac2" stroke-width="0.95" fill="none"/>
<circle cx="363.1" cy="248.9" r="2.35" fill="#e98de4"/>
<circle cx="363.1" cy="262.8" r="2.35" fill="#e98de4"/>
<circle cx="363.1" cy="271.3" r="2.35" fill="#e98de4"/>
<circle cx="363.1" cy="276.2" r="2.35" fill="#e98de4"/>
<circle cx="363.1" cy="299.6" r="2.35" fill="#e98de4"/>
<rect x="381.4" y="291.0" width="14.6" height="55.3" fill="#dbeac4"/>
<path d="M381.4,346.3V291.0H396.0V346.3" fill="none" stroke="#4e9426" stroke-width="1.45"/>
<path d="M388.7,266.2V314.5M384.8,266.2H392.59999999999997M384.8,314.5H392.59999999999997" stroke="#97c47c" stroke-width="0.95" fill="none"/>
<circle cx="388.0" cy="255.5" r="2.35" fill="#afdc82"/>
<circle cx="388.0" cy="291.6" r="2.35" fill="#afdc82"/>
<circle cx="388.0" cy="304.0" r="2.35" fill="#afdc82"/>
<circle cx="388.0" cy="309.8" r="2.35" fill="#afdc82"/>
<line x1="297.36" y1="239.5" x2="297.36" y2="346.3" stroke="#111" stroke-width="1.3"/>
<line x1="292.86" y1="239.5" x2="297.36" y2="239.5" stroke="#111" stroke-width="1.3"/>
<text transform="translate(291.66,242.41) scale(1,1.07)" font-size="7.9" text-anchor="end" font-weight="bold" fill="#000" stroke="#000" stroke-width="0.18" >0.8</text>
<line x1="292.86" y1="266.2" x2="297.36" y2="266.2" stroke="#111" stroke-width="1.3"/>
<text transform="translate(291.66,269.11) scale(1,1.07)" font-size="7.9" text-anchor="end" font-weight="bold" fill="#000" stroke="#000" stroke-width="0.18" >0.6</text>
<line x1="292.86" y1="292.9" x2="297.36" y2="292.9" stroke="#111" stroke-width="1.3"/>
<text transform="translate(291.66,295.81) scale(1,1.07)" font-size="7.9" text-anchor="end" font-weight="bold" fill="#000" stroke="#000" stroke-width="0.18" >0.4</text>
<line x1="292.86" y1="319.6" x2="297.36" y2="319.6" stroke="#111" stroke-width="1.3"/>
<text transform="translate(291.66,322.51) scale(1,1.07)" font-size="7.9" text-anchor="end" font-weight="bold" fill="#000" stroke="#000" stroke-width="0.18" >0.2</text>
<line x1="292.86" y1="346.3" x2="297.36" y2="346.3" stroke="#111" stroke-width="1.3"/>
<text transform="translate(291.66,349.21) scale(1,1.07)" font-size="7.9" text-anchor="end" font-weight="bold" fill="#000" stroke="#000" stroke-width="0.18" >0.0</text>
<line x1="292.86" y1="346.3" x2="403.8" y2="346.3" stroke="#111" stroke-width="1.3"/>
<line x1="313.7" y1="346.3" x2="313.7" y2="351.1" stroke="#111" stroke-width="1.3"/>
<text transform="translate(313.7,359.6) scale(1,1.07)" font-size="8.0" text-anchor="middle" font-weight="bold" fill="#000" stroke="#000" stroke-width="0.18" >L PEG</text>
<line x1="338.7" y1="346.3" x2="338.7" y2="351.1" stroke="#111" stroke-width="1.3"/>
<text transform="translate(338.7,359.6) scale(1,1.07)" font-size="8.0" text-anchor="middle" font-weight="bold" fill="#000" stroke="#000" stroke-width="0.18" >VE 5</text>
<line x1="363.7" y1="346.3" x2="363.7" y2="351.1" stroke="#111" stroke-width="1.3"/>
<text transform="translate(363.7,359.6) scale(1,1.07)" font-size="8.0" text-anchor="middle" font-weight="bold" fill="#000" stroke="#000" stroke-width="0.18" >VE 25</text>
<line x1="388.7" y1="346.3" x2="388.7" y2="351.1" stroke="#111" stroke-width="1.3"/>
<text transform="translate(388.7,359.6) scale(1,1.07)" font-size="8.0" text-anchor="middle" font-weight="bold" fill="#000" stroke="#000" stroke-width="0.18" >VE 50</text>
<text transform="translate(350.5,372.6) scale(1,1.07)" font-size="8.6" text-anchor="middle" font-weight="bold" fill="#000" stroke="#000" stroke-width="0.18" >Day 28</text>
<text transform="translate(247.85,231.5) scale(1,1.04)" font-size="19.4" font-weight="bold" fill="#000" stroke="#000" stroke-width="0.35">F</text>
<text transform="translate(260.6,231.5) scale(1,1.04)" font-size="19.4" font-weight="bold" fill="#000" stroke="#000" stroke-width="0.35">.</text>
<text transform="translate(264.0,293.0) rotate(-90) scale(1,1.07)" font-size="8.8" text-anchor="middle" font-weight="bold" fill="#000" stroke="#000" stroke-width="0.12">MYH2 Expression</text>
<text transform="translate(274.0,291.85) rotate(-90) scale(1,1.07)" font-size="8.8" text-anchor="middle" font-weight="bold" fill="#000" stroke="#000" stroke-width="0.12">(pg/ug protein)</text>
<rect x="511.4" y="309.7" width="14.6" height="36.25" fill="#bdd0ea"/>
<path d="M511.40000000000003,345.95V309.7H526.0V345.95" fill="none" stroke="#25509a" stroke-width="1.45"/>
<path d="M518.7,303.3V313.8M514.8000000000001,303.3H522.6M514.8000000000001,313.8H522.6" stroke="#7896cc" stroke-width="0.95" fill="none"/>
<circle cx="518.6" cy="300.2" r="2.35" fill="#6f96d8"/>
<circle cx="512.8" cy="312.3" r="2.35" fill="#6f96d8"/>
<circle cx="518.6" cy="310.3" r="2.35" fill="#6f96d8"/>
<circle cx="525.0" cy="309.8" r="2.35" fill="#6f96d8"/>
<rect x="536.4" y="329.5" width="14.6" height="16.45" fill="#d0c2e7"/>
<path d="M536.4000000000001,345.95V329.5H551.0V345.95" fill="none" stroke="#4a2890" stroke-width="1.45"/>
<path d="M543.7,317.4V339.6M539.8000000000001,317.4H547.6M539.8000000000001,339.6H547.6" stroke="#8b6acb" stroke-width="0.95" fill="none"/>
<circle cx="543.3" cy="315.1" r="2.35" fill="#a585da"/>
<circle cx="537.6" cy="326.0" r="2.35" fill="#a585da"/>
<circle cx="549.7" cy="329.8" r="2.35" fill="#a585da"/>
<circle cx="543.3" cy="342.4" r="2.35" fill="#a585da"/>
<rect x="561.2" y="286.4" width="14.6" height="59.55" fill="#f4c6f0"/>
<path d="M561.2,345.95V286.4H575.8V345.95" fill="none" stroke="#9c1896" stroke-width="1.45"/>
<path d="M568.5,266.5V305.0M564.6,266.5H572.4M564.6,305.0H572.4" stroke="#c45ac2" stroke-width="0.95" fill="none"/>
<circle cx="568.4" cy="255.3" r="2.35" fill="#e98de4"/>
<circle cx="568.4" cy="277.9" r="2.35" fill="#e98de4"/>
<circle cx="568.4" cy="293.9" r="2.35" fill="#e98de4"/>
<circle cx="562.5" cy="301.3" r="2.35" fill="#e98de4"/>
<circle cx="574.5" cy="299.2" r="2.35" fill="#e98de4"/>
<rect x="585.9" y="287.3" width="14.6" height="58.65" fill="#dbeac4"/>
<path d="M585.9000000000001,345.95V287.3H600.5V345.95" fill="none" stroke="#4e9426" stroke-width="1.45"/>
<path d="M593.2,258.5V314.6M589.3000000000001,258.5H597.1M589.3000000000001,314.6H597.1" stroke="#97c47c" stroke-width="0.95" fill="none"/>
<circle cx="593.1" cy="251.7" r="2.35" fill="#afdc82"/>
<circle cx="587.3" cy="284.5" r="2.35" fill="#afdc82"/>
<circle cx="599.0" cy="287.5" r="2.35" fill="#afdc82"/>
<circle cx="593.1" cy="320.6" r="2.35" fill="#afdc82"/>
<line x1="502.14" y1="238.9" x2="502.14" y2="345.95" stroke="#111" stroke-width="1.3"/>
<line x1="497.64" y1="238.9" x2="502.14" y2="238.9" stroke="#111" stroke-width="1.3"/>
<text transform="translate(496.44,241.92) scale(1,1.07)" font-size="8.2" text-anchor="end" font-weight="bold" fill="#000" stroke="#000" stroke-width="0.18" >2.5</text>
<line x1="497.64" y1="260.31" x2="502.14" y2="260.31" stroke="#111" stroke-width="1.3"/>
<text transform="translate(496.44,263.33) scale(1,1.07)" font-size="8.2" text-anchor="end" font-weight="bold" fill="#000" stroke="#000" stroke-width="0.18" >2.0</text>
<line x1="497.64" y1="281.72" x2="502.14" y2="281.72" stroke="#111" stroke-width="1.3"/>
<text transform="translate(496.44,284.74) scale(1,1.07)" font-size="8.2" text-anchor="end" font-weight="bold" fill="#000" stroke="#000" stroke-width="0.18" >1.5</text>
<line x1="497.64" y1="303.13" x2="502.14" y2="303.13" stroke="#111" stroke-width="1.3"/>
<text transform="translate(496.44,306.15) scale(1,1.07)" font-size="8.2" text-anchor="end" font-weight="bold" fill="#000" stroke="#000" stroke-width="0.18" >1.0</text>
<line x1="497.64" y1="324.54" x2="502.14" y2="324.54" stroke="#111" stroke-width="1.3"/>
<text transform="translate(496.44,327.56) scale(1,1.07)" font-size="8.2" text-anchor="end" font-weight="bold" fill="#000" stroke="#000" stroke-width="0.18" >0.5</text>
<line x1="497.64" y1="345.95" x2="502.14" y2="345.95" stroke="#111" stroke-width="1.3"/>
<text transform="translate(496.44,348.97) scale(1,1.07)" font-size="8.2" text-anchor="end" font-weight="bold" fill="#000" stroke="#000" stroke-width="0.18" >0.0</text>
<line x1="497.64" y1="345.95" x2="609.8" y2="345.95" stroke="#111" stroke-width="1.3"/>
<line x1="518.7" y1="345.95" x2="518.7" y2="350.75" stroke="#111" stroke-width="1.3"/>
<text transform="translate(517.8,358.8) scale(1,1.07)" font-size="8.1" text-anchor="middle" font-weight="bold" fill="#000" stroke="#000" stroke-width="0.18" >PEG</text>
<line x1="543.7" y1="345.95" x2="543.7" y2="350.75" stroke="#111" stroke-width="1.3"/>
<text transform="translate(543.7,358.8) scale(1,1.07)" font-size="8.1" text-anchor="middle" font-weight="bold" fill="#000" stroke="#000" stroke-width="0.18" >VE 5</text>
<line x1="568.5" y1="345.95" x2="568.5" y2="350.75" stroke="#111" stroke-width="1.3"/>
<text transform="translate(568.5,358.8) scale(1,1.07)" font-size="8.1" text-anchor="middle" font-weight="bold" fill="#000" stroke="#000" stroke-width="0.18" >VE 25</text>
<line x1="593.2" y1="345.95" x2="593.2" y2="350.75" stroke="#111" stroke-width="1.3"/>
<text transform="translate(593.2,358.8) scale(1,1.07)" font-size="8.1" text-anchor="middle" font-weight="bold" fill="#000" stroke="#000" stroke-width="0.18" >VE 50</text>
<text transform="translate(555.6,372.4) scale(1,1.07)" font-size="8.7" text-anchor="middle" font-weight="bold" fill="#000" stroke="#000" stroke-width="0.18" >Day 28</text>
<text transform="translate(453.25,231.6) scale(1,1.04)" font-size="19.4" font-weight="bold" fill="#000" stroke="#000" stroke-width="0.35">G</text>
<text transform="translate(468.8,231.6) scale(1,1.04)" font-size="19.4" font-weight="bold" fill="#000" stroke="#000" stroke-width="0.35">.</text>
<text transform="translate(469.0,292.25) rotate(-90) scale(1,1.07)" font-size="8.9" text-anchor="middle" font-weight="bold" fill="#000" stroke="#000" stroke-width="0.12">MYH3 Expression</text>
<text transform="translate(479.2,291.25) rotate(-90) scale(1,1.07)" font-size="8.9" text-anchor="middle" font-weight="bold" fill="#000" stroke="#000" stroke-width="0.12">(pg/ug protein)</text>
<polyline points="50,27.3 50,11.3 124.5,11.3 124.5,62.4" fill="none" stroke="#111" stroke-width="1.2"/>
<path d="M77.55,1.20L77.55,6.20M75.38,2.45L79.72,4.95M79.72,2.45L75.38,4.95" stroke="#000" stroke-width="1.45" stroke-linecap="butt" fill="none"/>
<path d="M83.85,1.20L83.85,6.20M81.68,2.45L86.02,4.95M86.02,2.45L81.68,4.95" stroke="#000" stroke-width="1.45" stroke-linecap="butt" fill="none"/>
<path d="M90.15,1.20L90.15,6.20M87.98,2.45L92.32,4.95M92.32,2.45L87.98,4.95" stroke="#000" stroke-width="1.45" stroke-linecap="butt" fill="none"/>
<path d="M96.45,1.20L96.45,6.20M94.28,2.45L98.62,4.95M98.62,2.45L94.28,4.95" stroke="#000" stroke-width="1.45" stroke-linecap="butt" fill="none"/>
<polyline points="50,39.6 50,33.7 100.0,33.7 100.0,65.6" fill="none" stroke="#111" stroke-width="1.2"/>
<path d="M65.55,24.10L65.55,29.10M63.38,25.35L67.72,27.85M67.72,25.35L63.38,27.85" stroke="#000" stroke-width="1.45" stroke-linecap="butt" fill="none"/>
<path d="M71.85,24.10L71.85,29.10M69.68,25.35L74.02,27.85M74.02,25.35L69.68,27.85" stroke="#000" stroke-width="1.45" stroke-linecap="butt" fill="none"/>
<path d="M78.15,24.10L78.15,29.10M75.98,25.35L80.32,27.85M80.32,25.35L75.98,27.85" stroke="#000" stroke-width="1.45" stroke-linecap="butt" fill="none"/>
<path d="M84.45,24.10L84.45,29.10M82.28,25.35L86.62,27.85M86.62,25.35L82.28,27.85" stroke="#000" stroke-width="1.45" stroke-linecap="butt" fill="none"/>
<polyline points="50,109.7 50,56.6 74.8,56.6 74.8,68.8" fill="none" stroke="#111" stroke-width="1.2"/>
<path d="M52.85,46.20L52.85,51.20M50.68,47.45L55.02,49.95M55.02,47.45L50.68,49.95" stroke="#000" stroke-width="1.45" stroke-linecap="butt" fill="none"/>
<path d="M59.15,46.20L59.15,51.20M56.98,47.45L61.32,49.95M61.32,47.45L56.98,49.95" stroke="#000" stroke-width="1.45" stroke-linecap="butt" fill="none"/>
<path d="M65.45,46.20L65.45,51.20M63.28,47.45L67.62,49.95M67.62,47.45L63.28,49.95" stroke="#000" stroke-width="1.45" stroke-linecap="butt" fill="none"/>
<path d="M71.75,46.20L71.75,51.20M69.58,47.45L73.92,49.95M73.92,47.45L69.58,49.95" stroke="#000" stroke-width="1.45" stroke-linecap="butt" fill="none"/>
<text x="505.8" y="243.2" font-size="5.95" font-weight="normal" fill="#2a2a2a" stroke="#2a2a2a" stroke-width="0.08">Main Effect: Treatment (P=0.013)</text>
<line x1="49.1" y1="204.7" x2="637.8" y2="204.7" stroke="#1a1a1a" stroke-width="1.8"/>
</svg>
</body></html>
